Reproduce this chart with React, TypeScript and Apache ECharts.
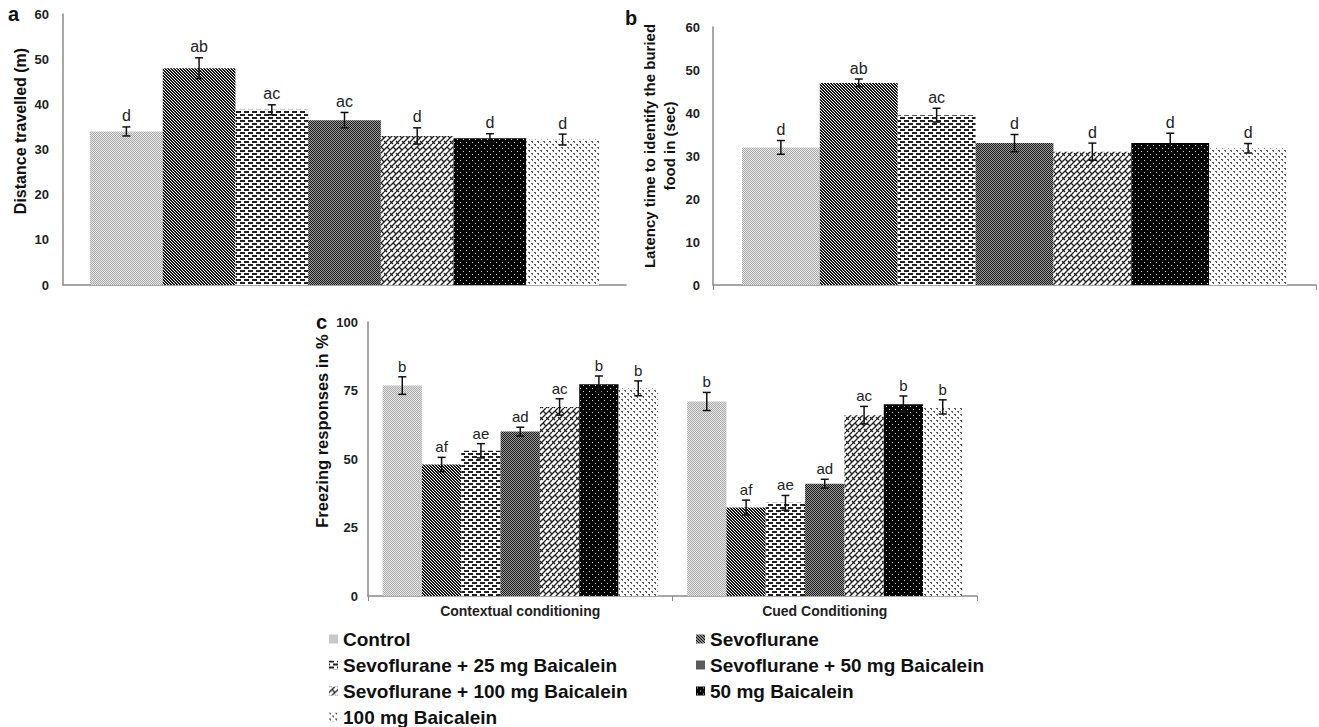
import React, { useEffect, useRef } from "react";
import * as echarts from "echarts";

const groups = [
  "Control",
  "Sevoflurane",
  "Sevoflurane + 25 mg Baicalein",
  "Sevoflurane + 50 mg Baicalein",
  "Sevoflurane + 100 mg Baicalein",
  "50 mg Baicalein",
  "100 mg Baicalein",
];

// Panel a: distance travelled (m)
const distanceMean = [34, 48, 38.8, 36.5, 33, 32.5, 32.2];
const distanceErr = [1.0, 2.3, 1.1, 1.7, 1.8, 1.0, 1.2];
const distanceLetters = ["d", "ab", "ac", "ac", "d", "d", "d"];

// Panel b: latency time (sec)
const latencyMean = [32, 47, 39.5, 33, 31, 33, 31.8];
const latencyErr = [1.6, 0.9, 1.6, 2.0, 2.0, 2.3, 1.1];
const latencyLetters = ["d", "ab", "ac", "d", "d", "d", "d"];

// Panel c: freezing responses (%)
const conditions = ["Contextual conditioning", "Cued Conditioning"];
const contextualMean = [76.8, 48, 53, 60, 69, 77.3, 75.8];
const contextualErr = [3.2, 2.6, 2.6, 1.6, 3.0, 3.0, 2.7];
const contextualLetters = ["b", "af", "ae", "ad", "ac", "b", "b"];
const cuedMean = [71, 32.3, 34, 41, 66, 70, 69];
const cuedErr = [3.3, 2.7, 2.7, 1.6, 3.2, 3.0, 2.6];
const cuedLetters = ["b", "af", "ae", "ad", "ac", "b", "b"];

const distanceTicks = { min: 0, max: 60, interval: 10 };
const latencyTicks = { min: 0, max: 60, interval: 10 };
const freezingTicks = { min: 0, max: 100, interval: 25 };

const FONT = "'Liberation Sans', Arial, sans-serif";
const GAP = 0.096;

function tile(w: number, h: number, draw: (c: CanvasRenderingContext2D) => void) {
  const cv = document.createElement("canvas");
  cv.width = w;
  cv.height = h;
  const c = cv.getContext("2d") as CanvasRenderingContext2D;
  c.fillStyle = "#ffffff";
  c.fillRect(0, 0, w, h);
  draw(c);
  return { image: cv, repeat: "repeat", imageWidth: w, imageHeight: h } as any;
}

function makePatterns() {
  const control = tile(2, 2, (c) => {
    c.fillStyle = "#a9a9a9";
    c.fillRect(0, 0, 1, 1);
    c.fillRect(1, 1, 1, 1);
    c.fillStyle = "#e8e8e8";
    c.fillRect(1, 0, 1, 1);
    c.fillRect(0, 1, 1, 1);
  });
  const sevo = tile(3, 3, (c) => {
    c.fillStyle = "#151515";
    for (let i = 0; i < 3; i++) {
      c.fillRect(i, i, 1, 1);
      c.fillRect((i + 1) % 3, i, 1, 1);
    }
  });
  const s25 = tile(8, 6, (c) => {
    c.fillStyle = "#222";
    c.fillRect(0, 0, 5, 2);
    c.fillRect(4, 3, 4, 2);
    c.fillRect(0, 3, 1, 2);
  });
  const s50 = tile(2, 2, (c) => {
    c.fillStyle = "#1c1c1c";
    c.fillRect(0, 0, 1, 1);
    c.fillRect(1, 1, 1, 1);
    c.fillStyle = "#9a9a9a";
    c.fillRect(1, 0, 1, 1);
    c.fillRect(0, 1, 1, 1);
  });
  const s100 = tile(12, 12, (c) => {
    c.strokeStyle = "#222";
    c.lineWidth = 1.3;
    for (let k = -3; k <= 3; k++) {
      c.beginPath();
      c.moveTo(k * 6, 12);
      c.lineTo(k * 6 + 12, 0);
      c.stroke();
    }
    const cross = (x: number, y: number) => {
      for (const dx of [-12, 0, 12]) {
        for (const dy of [-12, 0, 12]) {
          c.beginPath();
          c.moveTo(x + dx - 1.5, y + dy - 1.5);
          c.lineTo(x + dx + 1.5, y + dy + 1.5);
          c.stroke();
        }
      }
    };
    cross(4.5, 4.5);
    cross(10.5, 4.5);
    cross(1.5, 10.5);
    cross(7.5, 10.5);
  });
  const b50 = tile(6, 6, (c) => {
    c.fillStyle = "#000";
    c.fillRect(0, 0, 6, 6);
    c.fillStyle = "#d0d0d0";
    c.fillRect(1, 1, 1, 1);
    c.fillRect(4, 4, 1, 1);
  });
  const b100 = tile(6, 6, (c) => {
    c.fillStyle = "#5a5a5a";
    c.fillRect(0, 0, 2, 1);
    c.fillRect(1, 1, 1, 1);
    c.fillRect(3, 3, 2, 1);
    c.fillRect(4, 4, 1, 1);
  });
  return [control, sevo, s25, s50, s100, b50, b100];
}

function errorRenderer(letters: string[][], fontSize: number) {
  return (params: any, api: any) => {
    const cat = api.value(0);
    const idx = api.value(1);
    const v = api.value(2);
    const e = api.value(3);
    const band = api.size([1, 0])[0];
    const usable = band * (1 - GAP);
    const bw = usable / groups.length;
    const center = api.coord([cat, 0])[0];
    const x = center - usable / 2 + bw * (idx + 0.5);
    const yTop = api.coord([cat, v + e])[1];
    const yBot = api.coord([cat, v - e])[1];
    const cap = 4;
    const ls = { stroke: "#111", lineWidth: 1.5 };
    return {
      type: "group",
      children: [
        { type: "line", shape: { x1: x, y1: yTop, x2: x, y2: yBot }, style: ls },
        { type: "line", shape: { x1: x - cap, y1: yTop, x2: x + cap, y2: yTop }, style: ls },
        { type: "line", shape: { x1: x - cap, y1: yBot, x2: x + cap, y2: yBot }, style: ls },
        {
          type: "text",
          style: {
            text: letters[cat][idx],
            x,
            y: yTop - 3,
            align: "center",
            verticalAlign: "bottom",
            font: `${fontSize}px ${FONT}`,
            fill: "#222",
          },
        },
      ],
    };
  };
}

export default function App() {
  const ref = useRef<HTMLDivElement>(null);
  useEffect(() => {
    if (!ref.current) return;
    const chart = echarts.init(ref.current, null, { renderer: "svg" });
    const pats = makePatterns();

    const grids = [
      { left: 63, top: 14, width: 563, height: 271 },
      { left: 713, top: 27, width: 603, height: 258 },
      { left: 368, top: 322, width: 609, height: 274 },
    ];
    const axisLine = { show: true, lineStyle: { color: "#8a8a8a", width: 1.5 } };
    const labelStyle = { color: "#222", fontWeight: "bold" as const, fontSize: 13, fontFamily: FONT };
    const xAxis = [
      { gridIndex: 0, type: "category", data: [""], axisLine, axisTick: { show: false }, axisLabel: { show: false } },
      { gridIndex: 1, type: "category", data: [""], axisLine, axisTick: { show: true, length: 5, lineStyle: { color: "#8a8a8a" } }, axisLabel: { show: false } },
      {
        gridIndex: 2,
        type: "category",
        data: conditions,
        axisLine,
        axisTick: { show: true, length: 5, lineStyle: { color: "#8a8a8a" } },
        axisLabel: { ...labelStyle, fontSize: 14, margin: 8 },
      },
    ];
    const yAxis = [
      { gridIndex: 0, type: "value", ...distanceTicks, axisLine, axisTick: { show: false }, splitLine: { show: false }, axisLabel: { ...labelStyle, margin: 14 } },
      { gridIndex: 1, type: "value", ...latencyTicks, axisLine, axisTick: { show: false }, splitLine: { show: false }, axisLabel: { ...labelStyle, margin: 13 } },
      { gridIndex: 2, type: "value", ...freezingTicks, axisLine, axisTick: { show: false }, splitLine: { show: false }, axisLabel: { ...labelStyle, margin: 10 } },
    ];

    const panelData = [
      [distanceMean],
      [latencyMean],
      [contextualMean, cuedMean],
    ];
    const panelErr = [[distanceErr], [latencyErr], [contextualErr, cuedErr]];
    const panelLetters = [[distanceLetters], [latencyLetters], [contextualLetters, cuedLetters]];

    const series: any[] = [];
    for (let g = 0; g < 3; g++) {
      groups.forEach((name, i) => {
        series.push({
          type: "bar",
          name,
          xAxisIndex: g,
          yAxisIndex: g,
          barGap: "0%",
          barCategoryGap: GAP * 100 + "%",
          itemStyle: { color: pats[i] },
          data: panelData[g].map((arr) => arr[i]),
        });
      });
      const errData: number[][] = [];
      panelData[g].forEach((arr, c) => {
        arr.forEach((v, i) => errData.push([c, i, v, panelErr[g][c][i]]));
      });
      series.push({
        type: "custom",
        xAxisIndex: g,
        yAxisIndex: g,
        z: 10,
        encode: { x: 0, y: 2 },
        renderItem: errorRenderer(panelLetters[g], g === 2 ? 15 : 16),
        data: errData,
      });
    }

    const legendText = { fontSize: 19, fontWeight: "bold" as const, color: "#111", fontFamily: FONT, lineHeight: 20 };
    const legendBase = {
      orient: "vertical",
      itemWidth: 9,
      itemHeight: 9,
      itemGap: 6,
      icon: "rect",
      selectedMode: false,
      textStyle: legendText,
      padding: 0,
    };

    const option: any = {
      animation: false,
      grid: grids,
      xAxis,
      yAxis,
      series,
      legend: [
        { ...legendBase, left: 329, top: 629, data: [groups[0], groups[2], groups[4], groups[6]] },
        { ...legendBase, left: 696, top: 629, data: [groups[1], groups[3], groups[5]] },
      ],
      graphic: [
        { type: "text", left: 8, top: 4, style: { text: "a", font: `bold 20px ${FONT}`, fill: "#111" } },
        { type: "text", left: 625, top: 8, style: { text: "b", font: `bold 20px ${FONT}`, fill: "#111" } },
        { type: "text", left: 316, top: 312, style: { text: "c", font: `bold 20px ${FONT}`, fill: "#111" } },
        {
          type: "text",
          x: 20,
          y: 131,
          rotation: Math.PI / 2,
          style: { text: "Distance travelled (m)", font: `bold 16px ${FONT}`, fill: "#111", align: "center", verticalAlign: "middle" },
        },
        {
          type: "text",
          x: 659,
          y: 146,
          rotation: Math.PI / 2,
          style: {
            text: "Latency time to identify the buried\nfood in (sec)",
            font: `bold 15px ${FONT}`,
            lineHeight: 20,
            fill: "#111",
            align: "center",
            verticalAlign: "middle",
          },
        },
        {
          type: "text",
          x: 322,
          y: 431,
          rotation: Math.PI / 2,
          style: { text: "Freezing responses in %", font: `bold 16.5px ${FONT}`, fill: "#111", align: "center", verticalAlign: "middle" },
        },
      ],
    };
    chart.setOption(option);
    return () => chart.dispose();
  }, []);
  return (
    <div
      ref={ref}
      style={{ position: "fixed", left: 0, top: 0, width: 1319, height: 727, background: "#fff" }}
    />
  );
}
